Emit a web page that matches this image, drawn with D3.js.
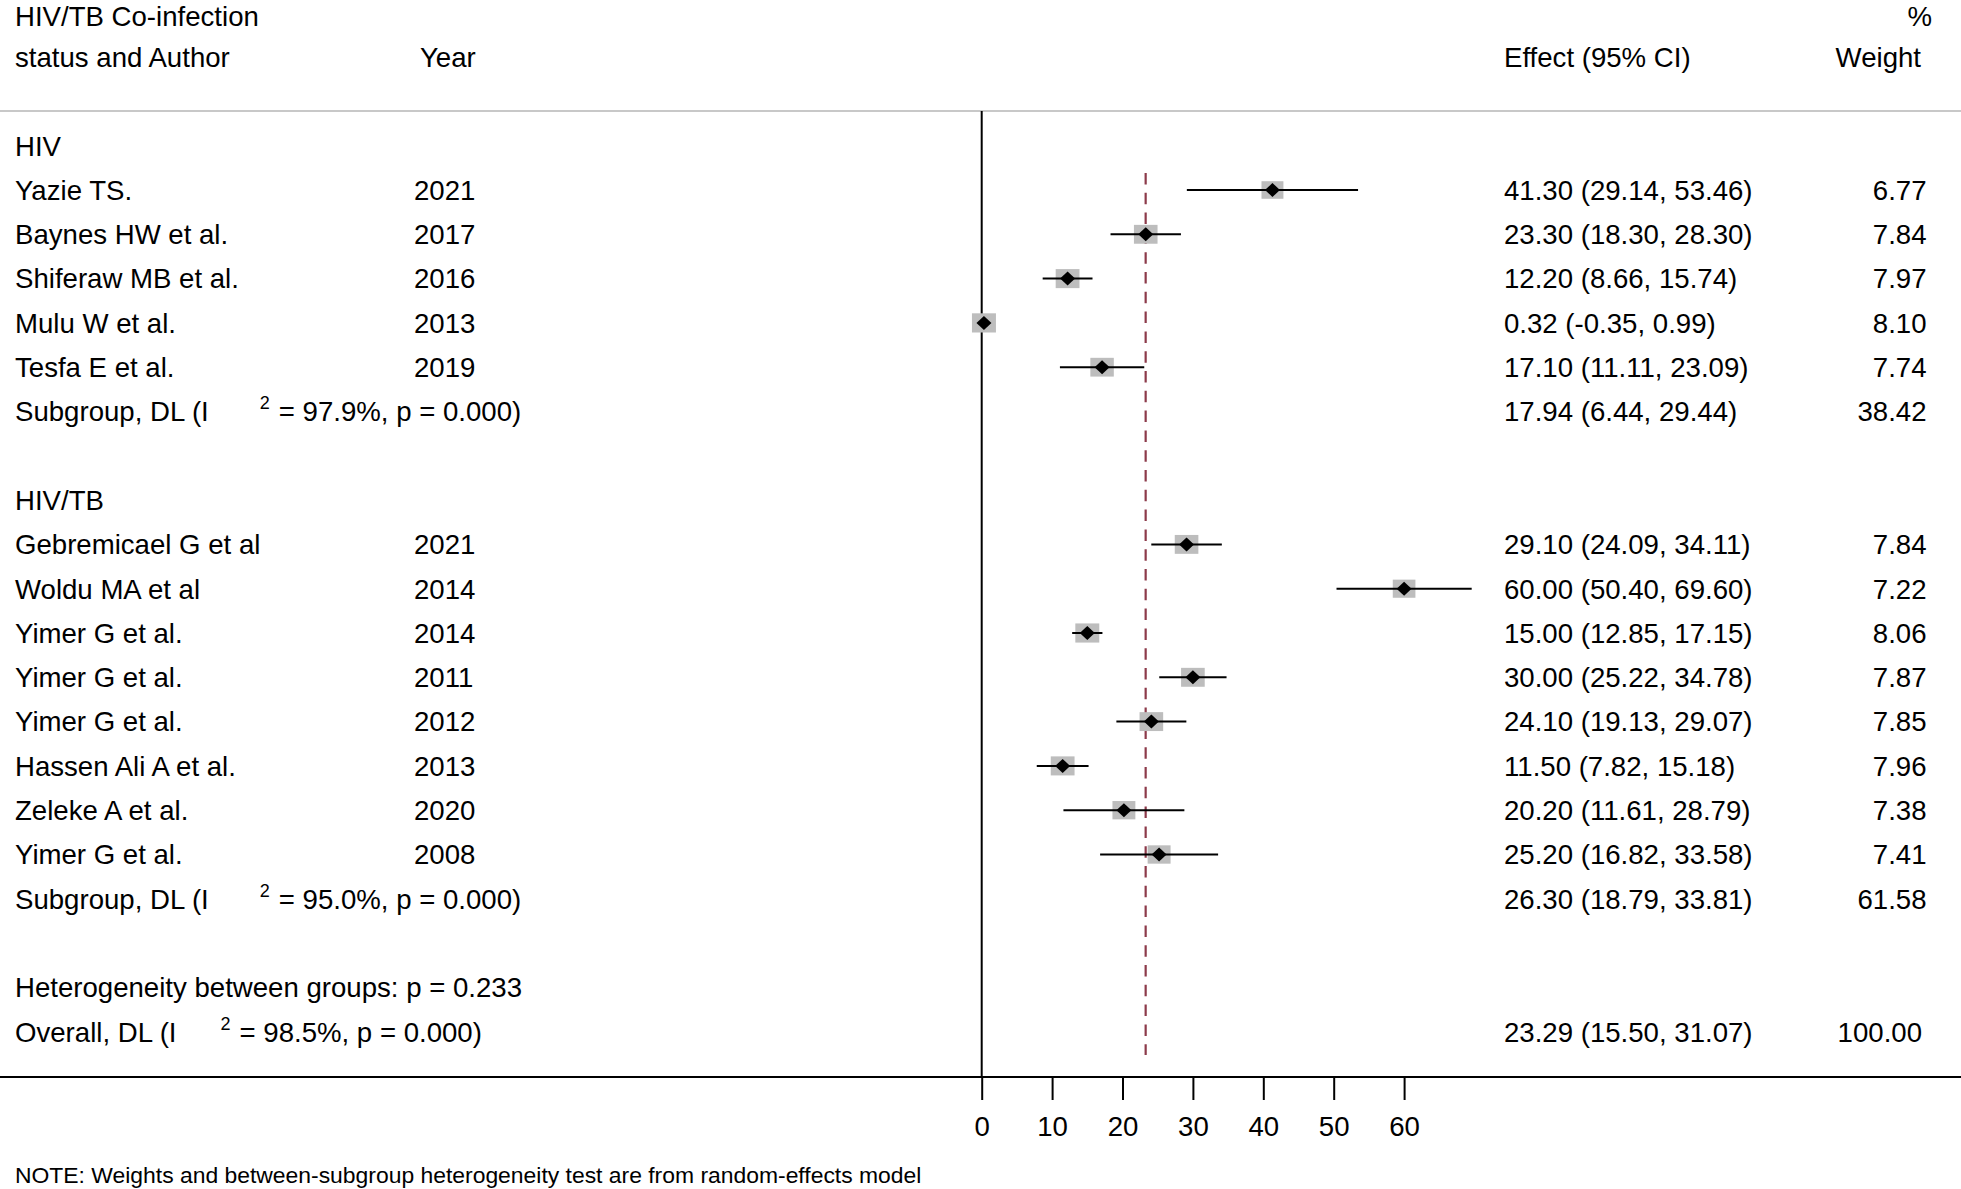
<!DOCTYPE html>
<html>
<head>
<meta charset="utf-8">
<script src="https://cdn.jsdelivr.net/npm/d3@7"></script>
<style>
  html, body { margin: 0; padding: 0; background: #fff; }
  svg { display: block; }
  text { font-family: "Liberation Sans", Arial, Helvetica, sans-serif; fill: #000; }
</style>
</head>
<body>
<svg id="chart" width="1961" height="1189"></svg>
<script>
// ---------------- data ----------------
const hivAuthors = ["Yazie TS.", "Baynes HW et al.", "Shiferaw MB et al.", "Mulu W et al.", "Tesfa E et al."];
const hivYears   = ["2021", "2017", "2016", "2013", "2019"];
const hivES      = [41.30, 23.30, 12.20, 0.32, 17.10];
const hivLo      = [29.14, 18.30, 8.66, -0.35, 11.11];
const hivHi      = [53.46, 28.30, 15.74, 0.99, 23.09];
const hivWeight  = [6.77, 7.84, 7.97, 8.10, 7.74];

const tbAuthors = ["Gebremicael G et al", "Woldu MA et al", "Yimer G et al.", "Yimer G et al.", "Yimer G et al.", "Hassen Ali A et al.", "Zeleke A et al.", "Yimer G et al."];
const tbYears   = ["2021", "2014", "2014", "2011", "2012", "2013", "2020", "2008"];
const tbES      = [29.10, 60.00, 15.00, 30.00, 24.10, 11.50, 20.20, 25.20];
const tbLo      = [24.09, 50.40, 12.85, 25.22, 19.13, 7.82, 11.61, 16.82];
const tbHi      = [34.11, 69.60, 17.15, 34.78, 29.07, 15.18, 28.79, 33.58];
const tbWeight  = [7.84, 7.22, 8.06, 7.87, 7.85, 7.96, 7.38, 7.41];

const groupNames   = ["HIV", "HIV/TB"];
const subgroupI2   = ["97.9%", "95.0%"];
const subgroupES   = [17.94, 26.30];
const subgroupLo   = [6.44, 18.79];
const subgroupHi   = [29.44, 33.81];
const subgroupW    = [38.42, 61.58];

const heterogeneityP = "0.233";
const overallI2 = "98.5%";
const overallES = 23.29, overallLo = 15.50, overallHi = 31.07, overallW = 100.00;

const xTicks = [0, 10, 20, 30, 40, 50, 60];
const headers = { col1a: "HIV/TB Co-infection", col1b: "status and Author", year: "Year", effect: "Effect (95% CI)", wA: "%", wB: "Weight" };
const note = "NOTE: Weights and between-subgroup heterogeneity test are from random-effects model";

// ---------------- layout ----------------
const W = 1961, H = 1189;
const FS = 27.6;
const svg = d3.select("#chart");
const fmt = v => v.toFixed(2);

const x = d3.scaleLinear().domain([0, 60]).range([981.7, 1404.1]);
const y = d3.scaleLinear().domain([0, 20]).range([145.7, 1031.7]);
const baseOff = 0.358 * FS;

const xLabel = 15, xYear = 414, xEffect = 1504, xWeight = 1926.5, xWeightBig = 1922;

// build rows
const rows = [];
let r = 0;
rows.push({ r: r++, type: "group", label: groupNames[0] });
hivAuthors.forEach((a, i) => rows.push({ r: r++, type: "study", label: a, year: hivYears[i], es: hivES[i], lo: hivLo[i], hi: hivHi[i], w: hivWeight[i] }));
rows.push({ r: r++, type: "sub", pre: "Subgroup, DL (I", i2: subgroupI2[0], es: subgroupES[0], lo: subgroupLo[0], hi: subgroupHi[0], w: subgroupW[0], gap: 51 });
r++;
rows.push({ r: r++, type: "group", label: groupNames[1] });
tbAuthors.forEach((a, i) => rows.push({ r: r++, type: "study", label: a, year: tbYears[i], es: tbES[i], lo: tbLo[i], hi: tbHi[i], w: tbWeight[i] }));
rows.push({ r: r++, type: "sub", pre: "Subgroup, DL (I", i2: subgroupI2[1], es: subgroupES[1], lo: subgroupLo[1], hi: subgroupHi[1], w: subgroupW[1], gap: 51 });
r++;
rows.push({ r: r++, type: "het", label: "Heterogeneity between groups: p = " + heterogeneityP });
rows.push({ r: r++, type: "sub", pre: "Overall, DL (I", i2: overallI2, es: overallES, lo: overallLo, hi: overallHi, w: overallW, gap: 44 });

// ---------------- header ----------------
const hdr = svg.append("g").attr("font-size", FS);
hdr.append("text").attr("x", xLabel).attr("y", 16 + baseOff).text(headers.col1a);
hdr.append("text").attr("x", xLabel).attr("y", 57 + baseOff).text(headers.col1b);
hdr.append("text").attr("x", 420).attr("y", 57 + baseOff).text(headers.year);
hdr.append("text").attr("x", xEffect).attr("y", 57 + baseOff).text(headers.effect);
hdr.append("text").attr("x", 1932).attr("y", 16 + baseOff).attr("text-anchor", "end").text(headers.wA);
hdr.append("text").attr("x", 1921).attr("y", 57 + baseOff).attr("text-anchor", "end").text(headers.wB);

svg.append("line").attr("x1", 0).attr("x2", W).attr("y1", 111).attr("y2", 111)
  .attr("stroke", "#c8c8c8").attr("stroke-width", 2);

// ---------------- reference lines ----------------
svg.append("line").attr("x1", x(0)).attr("x2", x(0)).attr("y1", 111).attr("y2", 1077)
  .attr("stroke", "#000").attr("stroke-width", 2);

svg.append("line").attr("x1", x(overallES)).attr("x2", x(overallES))
  .attr("y1", 173).attr("y2", 1055)
  .attr("stroke", "#8c3a4a").attr("stroke-width", 2.2).attr("stroke-dasharray", "11.5,8.3");

// ---------------- study marks ----------------
const studies = rows.filter(d => d.type === "study");
const boxK = 8.43;
const marks = svg.append("g");
marks.selectAll("rect.box").data(studies).join("rect")
  .attr("class", "box")
  .attr("x", d => x(d.es) - boxK * Math.sqrt(d.w) / 2)
  .attr("y", d => y(d.r) - 0.8 * boxK * Math.sqrt(d.w) / 2)
  .attr("width", d => boxK * Math.sqrt(d.w))
  .attr("height", d => 0.8 * boxK * Math.sqrt(d.w))
  .attr("fill", "#bdbdbd");
marks.selectAll("line.ci").data(studies).join("line")
  .attr("class", "ci")
  .attr("x1", d => x(d.lo)).attr("x2", d => x(d.hi))
  .attr("y1", d => y(d.r)).attr("y2", d => y(d.r))
  .attr("stroke", "#000").attr("stroke-width", 2);
marks.selectAll("path.pt").data(studies).join("path")
  .attr("class", "pt")
  .attr("d", d => {
    const cx = x(d.es), cy = y(d.r), s = 7.5, t = 7;
    return `M${cx - s},${cy}L${cx},${cy - t}L${cx + s},${cy}L${cx},${cy + t}Z`;
  })
  .attr("fill", "#000");

// ---------------- text columns ----------------
const tg = svg.append("g").attr("font-size", FS);
rows.forEach(d => {
  const by = y(d.r) + baseOff;
  if (d.type === "group" || d.type === "het") {
    tg.append("text").attr("x", xLabel).attr("y", by).text(d.label);
  } else if (d.type === "study") {
    tg.append("text").attr("x", xLabel).attr("y", by).text(d.label);
    tg.append("text").attr("x", xYear).attr("y", by).text(d.year);
  } else if (d.type === "sub") {
    const t1 = tg.append("text").attr("x", xLabel).attr("y", by).text(d.pre);
    const end = xLabel + t1.node().getComputedTextLength();
    const sx = end + d.gap;
    tg.append("text").attr("x", sx).attr("y", by - 12).attr("font-size", 18).text("2");
    tg.append("text").attr("x", sx + 19).attr("y", by).text("= " + d.i2 + ", p = 0.000)");
  }
  if (d.type === "study" || d.type === "sub") {
    tg.append("text").attr("x", xEffect).attr("y", by)
      .text(`${fmt(d.es)} (${fmt(d.lo)}, ${fmt(d.hi)})`);
    tg.append("text").attr("x", d.w >= 100 ? xWeightBig : xWeight).attr("y", by)
      .attr("text-anchor", "end").text(fmt(d.w));
  }
});

// ---------------- axis ----------------
svg.append("line").attr("x1", 0).attr("x2", W).attr("y1", 1077).attr("y2", 1077)
  .attr("stroke", "#000").attr("stroke-width", 2);
const axis = svg.append("g").attr("transform", "translate(0,1077)")
  .call(d3.axisBottom(x).tickValues(xTicks).tickSize(23).tickPadding(16).tickFormat(d3.format("d")));
axis.select(".domain").remove();
axis.selectAll(".tick line").attr("stroke", "#000").attr("stroke-width", 2);
axis.selectAll(".tick text").attr("font-size", FS).attr("fill", "#000")
  .attr("font-family", "\"Liberation Sans\", Arial, sans-serif");

// ---------------- note ----------------
svg.append("text").attr("x", xLabel).attr("y", 1175 + 0.358 * 22.9)
  .attr("font-size", 22.9).text(note);
</script>
</body>
</html>
